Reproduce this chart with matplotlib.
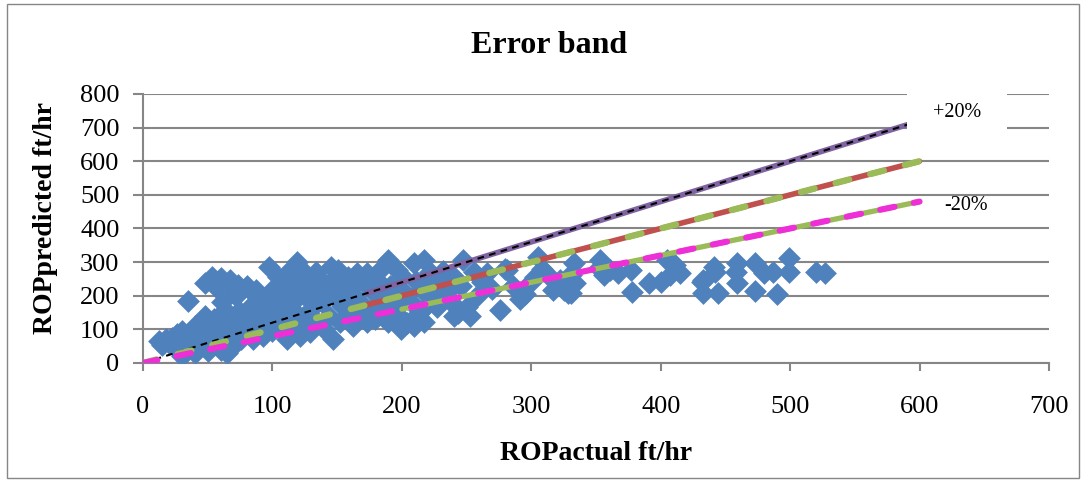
import matplotlib
matplotlib.use('Agg')
import matplotlib.pyplot as plt
from matplotlib.patches import Rectangle

plt.rcParams['font.family'] = ['Liberation Serif', 'DejaVu Serif']

rop_actual = [
    12, 15, 18, 20, 22, 24, 26, 28, 30, 30, 32, 34, 35, 36, 38, 40, 40, 42, 44, 45, 46,
    48, 48, 50, 50, 52, 53, 54, 55, 56, 58, 60, 60, 61, 62, 63, 64, 65, 66, 67, 67, 68, 70, 70,
    72, 73, 74, 75, 76, 78, 80, 80, 82, 83, 85, 86, 87, 88, 90, 92, 93, 94, 96, 97, 98, 100, 100, 102,
    104, 105, 106, 108, 110, 111, 111, 113, 115, 116, 118, 119, 120, 121, 123, 125, 126, 128, 129,
    130, 132, 134, 135, 137, 138, 140, 142, 144, 145, 147, 148, 150, 151, 152, 154, 156, 158, 160,
    162, 163, 165, 166, 168, 170,
    173, 173, 175, 177, 179, 180, 183, 185, 187, 189, 189, 191, 194, 196, 198, 199, 200, 202, 204,
    206, 209, 209, 211, 213, 215, 217, 217, 217, 219, 222, 224, 227, 229, 232, 235, 238, 240, 240,
    243, 246, 247, 250, 253, 256, 258,
    262, 266, 270, 276, 280, 281, 286, 291, 295, 300, 303, 305, 308, 312, 317, 322, 325, 328, 329,
    331, 331, 333, 334,
    352, 353, 356, 361, 367, 377, 378, 391, 400, 405, 407, 411, 415, 432, 433, 433, 441, 442, 444,
    459, 458, 459, 473, 480, 487, 473, 490, 499, 499, 520, 527,
]
rop_predicted = [
    65, 55, 70, 60, 75, 50, 85, 65, 20, 95, 40, 75, 183, 55, 90, 30, 110, 70, 121, 50, 95,
    139, 238, 35, 80, 110, 257, 60, 130, 225, 95, 253, 40, 180, 80, 159, 120, 30, 230, 248, 41, 100, 140, 60,
    200, 233, 100, 153, 70, 120, 228, 121, 90, 168, 71, 140, 218, 195, 110, 170, 80, 150, 159, 286, 121, 218, 95, 190,
    257, 140, 230, 168, 200, 268, 71, 110, 245, 180, 150, 301, 220, 80, 130, 268, 195, 240, 91,
    160, 210, 271, 120, 250, 180, 100, 225, 140, 286, 71, 200, 260, 277, 121, 170, 230, 257, 150,
    109, 200, 268, 245, 180, 140,
    268, 121, 220, 160, 130, 250, 277, 190, 150, 307, 121, 230, 175, 277, 140, 100, 260, 210, 120,
    185, 297, 109, 245, 150, 220, 307, 248, 121, 170, 270, 200, 168, 240, 275, 210, 180, 257, 139,
    150, 230, 307, 168, 139, 270, 200,
    240, 268, 220, 159, 280, 277, 228, 189, 205, 240, 257, 316, 280, 265, 218, 248, 218, 209, 258,
    262, 209, 297, 238,
    283, 307, 262, 277, 268, 277, 212, 238, 242, 307, 263, 292, 268, 242, 209, 248, 286, 271, 209,
    297, 271, 238, 297, 268, 271, 213, 204, 312, 271, 271, 268,
]

# +20%, perfect-match and -20% reference lines
plus_x, plus_y = [172, 600], [206.4, 720]
plus_dash_x, plus_dash_y = [0, 600], [0, 720]
exact_x, exact_y = [172, 600], [172, 600]
exact_dash_x, exact_dash_y = [0, 600], [0, 600]
minus_x, minus_y = [200, 600], [160, 480]
minus_dash_x, minus_dash_y = [0, 600], [0, 480]

grey = '#868686'

fig = plt.figure(figsize=(10.87, 4.82), dpi=100)
ax = fig.add_axes([0.1316, 0.2469, 0.8334, 0.5581])

ax.scatter(rop_actual, rop_predicted, marker='D', s=135, c='#4F81BD',
           linewidths=0, zorder=3)

ax.plot(plus_x, plus_y, color='#8064A2', lw=4.0, solid_capstyle='butt', zorder=4)
ax.plot(plus_dash_x, plus_dash_y, color='black', lw=1.5, dashes=(3.2, 2.6), zorder=5)
ax.plot(exact_x, exact_y, color='#C0504D', lw=4.0, solid_capstyle='round', zorder=4)
ax.plot(exact_dash_x, exact_dash_y, color='#9BBB59', lw=4.6, dashes=(2.2, 3.4),
        dash_capstyle='round', zorder=5)
ax.plot(minus_x, minus_y, color='#9BBB59', lw=3.8, solid_capstyle='round', zorder=4)
ax.plot(minus_dash_x, minus_dash_y, color='#EE2FD8', lw=4.4, dashes=(2.4, 3.2),
        dash_capstyle='round', zorder=6)

ax.text(629, 744, '+20%', fontsize=14.5, ha='center', va='center', zorder=10,
        bbox=dict(facecolor='white', edgecolor='none', boxstyle='square,pad=1.3'))
ax.text(636, 468, '-20%', fontsize=14.5, ha='center', va='center', zorder=10)

ax.set_xlim(0, 700)
ax.set_ylim(0, 800)
ax.set_xticks(range(0, 701, 100))
ax.set_yticks(range(0, 801, 100))
ax.grid(axis='y', color=grey, lw=1.5, zorder=0)
ax.set_axisbelow(True)
for side in ['top', 'right']:
    ax.spines[side].set_visible(False)
for side in ['left', 'bottom']:
    ax.spines[side].set_color(grey)
    ax.spines[side].set_linewidth(1.5)
ax.tick_params(axis='x', direction='out', length=6, width=1.5, color=grey,
               labelsize=19, pad=18)
ax.tick_params(axis='y', direction='out', length=7, width=1.5, color=grey,
               labelsize=19, pad=10)

fig.text(0.505, 0.906, 'Error band', fontsize=23, fontweight='bold',
         ha='center', va='center')
fig.text(0.548, 0.060, 'ROPactual ft/hr', fontsize=20, fontweight='bold',
         ha='center', va='center')
fig.text(0.0414, 0.548, 'ROPpredicted ft/hr', fontsize=20, fontweight='bold',
         rotation=90, ha='center', va='center')

fig.patches.append(Rectangle((0.0065, 0.008), 0.986, 0.983, transform=fig.transFigure,
                             fill=False, edgecolor=grey, lw=1))

fig.savefig('out.png', dpi=100)
